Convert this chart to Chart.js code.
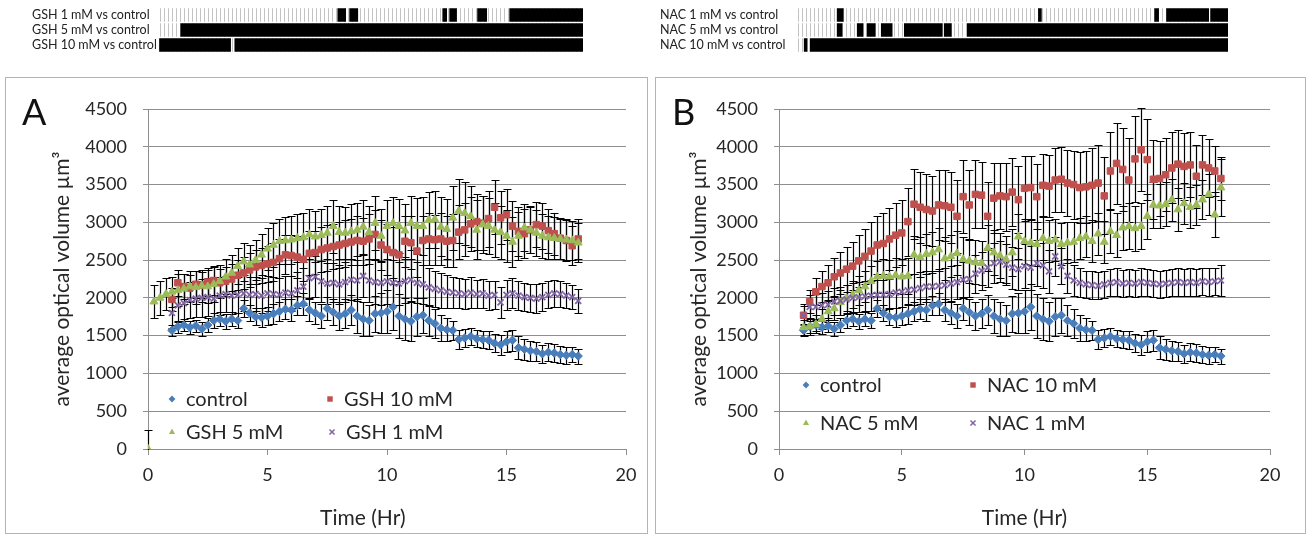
<!DOCTYPE html>
<html><head><meta charset="utf-8">
<script src="https://cdn.jsdelivr.net/npm/chart.js@4.4.1/dist/chart.umd.min.js"></script>
<style>
html,body{margin:0;padding:0;background:#fff;width:1307px;height:536px;overflow:hidden;}
canvas{position:absolute;}
.box{position:absolute;border:1px solid #b4b4b4;box-sizing:border-box;}
</style></head><body>
<div class="box" style="left:5px;top:77px;width:643px;height:457px"></div>
<div class="box" style="left:655px;top:77px;width:651px;height:457px"></div>
<canvas id="stripA" style="left:0;top:0;width:600px;height:60px" width="600" height="60"></canvas>
<canvas id="stripB" style="left:650px;top:0;width:657px;height:60px" width="657" height="60"></canvas>
<canvas id="chartA" style="left:6px;top:78px;width:640px;height:453px" width="640" height="453"></canvas>
<canvas id="chartB" style="left:656px;top:78px;width:648px;height:453px" width="648" height="453"></canvas>
<script>
// ---------------- DATA ----------------
const hours = [1,1.25,1.5,1.75,2,2.25,2.5,2.75,3,3.25,3.5,3.75,4,4.25,4.5,4.75,5,5.25,5.5,5.75,6,6.25,6.5,6.75,7,7.25,7.5,7.75,8,8.25,8.5,8.75,9,9.25,9.5,9.75,10,10.25,10.5,10.75,11,11.25,11.5,11.75,12,12.25,12.5,12.75,13,13.25,13.5,13.75,14,14.25,14.5,14.75,15,15.25,15.5,15.75,16,16.25,16.5,16.75,17,17.25,17.5,17.75,18];
const leadHours = [0,0.25,0.5,0.75];

const control = [1570,1620,1640,1610,1630,1590,1640,1700,1720,1690,1720,1700, 1860,1800,1750,1740,1760,1790,1820,1850,1840,1900,1920,1840,1800,1760,1860,1810, 1760,1790,1840,1760,1720,1700,1790,1800,1820,1880,1760,1720,1690,1750,1770,1700, 1660,1600,1580,1570,1450,1470,1490,1460,1450,1440,1400,1380, 1420,1440,1340,1320,1300,1290,1260,1280,1270,1250,1240,1250,1230];
const controlErr = [70,80,80,90,80,90,90,100,90,100,90,100, 110,100,110,120,120,130,120,130,140,130,150,140,150,160,150,170, 180,190,200,220,230,210,240,260,280,300,290,280,260,250,230,210, 190,170,150,130,120,120,110,110,110,120,120,130, 140,140,150,140,130,130,120,120,120,110,110,100,100];

const gsh10 = [1980,2200,2150,2130,2180,2170,2210,2230,2200,2220,2250,2300, 2330,2370,2410,2430,2450,2470,2520,2570,2560,2540,2510,2590,2600,2640,2660,2680, 2700,2720,2740,2760,2750,2780,2840,2700,2640,2600,2570,2750,2730,2620,2760,2780, 2770,2780,2750,2760,2870,2900,2980,3010,2990,3050,3200,3060, 3100,2950,2880,2850,2900,2970,2950,2890,2850,2790,2760,2690,2780];
const gsh10Err = [150,170,160,170,180,170,180,190,180,190,200,200, 210,220,230,230,240,250,260,260,270,280,280,290,290,300,300,300, 300,310,300,320,310,330,320,330,340,340,350,340,350,340,330,340, 330,340,340,350,360,350,360,370,360,370,360,350, 340,330,320,320,310,300,300,290,280,270,270,260,260];

const gsh5Lead = [0,1950,2000,2050];
const gsh5LeadErr = [250,220,220,210];
const gsh5 = [2080,2100,2120,2150,2140,2160,2150,2180,2220,2280,2330,2420, 2480,2440,2500,2570,2650,2700,2750,2760,2770,2790,2800,2840,2810,2830,2860,2950, 2870,2860,2880,2900,2940,2870,2990,2820,2950,2990,2950,2890,2990,2950,2950,3030, 3040,2940,2910,3060,3150,3120,3080,2900,2970,2950,2900,2870, 2820,2740,2820,2930,2900,2860,2820,2800,2790,2780,2770,2760,2730];
const gsh5Err = [200,210,200,210,220,210,220,230,220,230,240,240, 250,260,260,270,280,290,300,310,320,320,330,330,340,340,350,350, 350,340,360,350,360,350,360,350,340,350,360,350,360,370,380,370, 380,390,400,420,430,420,400,390,380,370,360,350, 340,330,320,310,300,300,290,290,280,270,270,260,260];

const gsh1 = [1800,1900,1930,1970,1990,2000,2010,1990,2030,2050,2030,2040, 2060,2040,2050,2030,2060,2050,2040,2070,2060,2100,2150,2260,2280,2220,2190,2200, 2180,2210,2240,2230,2290,2230,2210,2200,2220,2200,2190,2220,2240,2200,2180,2140, 2120,2100,2080,2070,2060,2050,2070,2050,2060,2030,2040,1940, 2040,2060,2030,2010,2000,1990,2010,2040,2060,2050,2030,2010,1960];
const gsh1Err = [200,220,230,240,240,250,250,250,250,240,240,240, 240,230,230,230,230,230,220,220,230,240,250,260,270,270,270,260, 260,260,270,270,280,280,290,290,300,300,290,290,280,270,260,250, 240,230,220,210,200,200,200,190,190,190,190,200, 200,200,190,190,190,190,190,180,180,170,170,160,160];

const nac10 = [1770,1950,2080,2150,2200,2280,2330,2380,2420,2490,2550,2620, 2700,2720,2780,2830,2860,3010,3240,3200,3170,3150,3230,3220,3200,3080,3340,3230, 3370,3360,3080,3320,3350,3340,3400,3300,3450,3460,3340,3490,3480,3560,3570,3520, 3500,3460,3470,3490,3520,3350,3680,3780,3700,3560,3840,3960, 3830,3570,3580,3630,3720,3770,3740,3760,3610,3760,3720,3680,3580];
const nac10Err = [120,150,180,200,230,250,280,300,320,340,360,380, 390,400,410,420,430,450,460,470,470,460,460,470,470,480,480,460, 450,440,450,460,440,450,450,440,430,420,430,420,410,420,430,440, 450,470,480,490,500,510,520,540,550,560,570,550, 540,520,500,480,470,450,440,430,420,400,380,330,280];

const nac5 = [1610,1620,1650,1720,1820,1860,1940,2000,2040,2100,2150,2220, 2280,2290,2280,2300,2280,2290,2570,2540,2580,2600,2640,2520,2550,2590,2510,2490, 2470,2460,2660,2600,2560,2510,2600,2810,2750,2730,2710,2790,2750,2770,2710,2730, 2740,2790,2810,2750,2850,2740,2880,2830,2930,2950,2920,2950, 3080,3230,3220,3240,3300,3170,3250,3200,3230,3300,3370,3100,3460];
const nac5Err = [100,110,120,130,140,150,160,170,180,190,200,200, 210,220,220,230,230,240,250,260,270,270,280,280,280,290,290,290, 290,290,300,300,300,310,310,300,300,300,290,290,280,280,280,270, 270,270,270,280,280,280,290,290,290,300,300,300, 300,300,290,290,280,280,270,270,260,260,270,300,380];

const nac1 = [1770,1880,1880,1900,1910,1950,1960,1980,2000,2010,2020,2030, 2040,2040,2050,2070,2080,2100,2110,2130,2150,2150,2160,2170,2190,2210,2240,2250, 2320,2360,2400,2460,2480,2440,2400,2380,2420,2400,2460,2430,2350,2550,2420,2290, 2230,2200,2180,2170,2160,2180,2200,2210,2190,2200,2190,2210, 2200,2190,2180,2190,2200,2210,2200,2210,2200,2220,2210,2220,2230];
const nac1Err = [150,160,170,170,180,180,190,190,200,200,200,200, 200,200,200,200,200,200,200,210,210,210,220,220,230,230,240,240, 250,250,260,260,270,270,280,280,290,290,300,300,280,260,240,220, 200,190,180,180,180,180,180,180,180,180,180,180, 180,180,180,180,180,180,180,180,180,180,180,180,200];

const yTicks = [0,500,1000,1500,2000,2500,3000,3500,4000,4500];
const xTicks = [0,5,10,15,20];

// significance strips (hours where treatment differs from control)
const stripLabelsA = ['GSH 1 mM vs control','GSH 5 mM vs control','GSH 10 mM vs control'];
const sigGsh1 = [[8.17,8.49],[8.65,8.98],[12.42,12.58],[12.70,12.98],[13.83,14.20],[15.13,18.1]];
const sigGsh5 = [[1.81,18.1]];
const sigGsh10 = [[0.95,3.83],[4.0,18.1]];
const stripSpanA = [0.88,18.1];

const stripLabelsB = ['NAC 1 mM vs control','NAC 5 mM vs control','NAC 10 mM vs control'];
const sigNac1 = [[2.33,2.58],[10.45,10.57],[15.14,15.30],[15.62,17.32],[17.40,18.1]];
const sigNac5 = [[2.33,2.53],[3.14,3.38],[3.54,3.87],[4.11,4.55],[5.04,6.57],[6.65,6.94],[7.58,18.1]];
const sigNac10 = [[1.0,1.12],[1.24,18.1]];
const stripSpanB = [0.75,18.1];

// ---------------- RENDER ----------------
const FONT = 'Lato, "Open Sans", sans-serif';
Chart.defaults.font.family = FONT;
Chart.defaults.color = '#262626';
const GRID = '#8e8e8e';
const COL = {blue:'#4A7EBB', red:'#C0504D', green:'#9BBB59', purple:'#8064A2'};

function pts(hrs, vals){ return vals.map((v,i)=>({x:hrs[i], y:v})); }

function drawMarker(ctx, style, color, x, y, r){
  ctx.save(); ctx.fillStyle=color; ctx.strokeStyle=color; ctx.lineWidth=1.5;
  ctx.beginPath();
  if(style==='rectRot'){ ctx.moveTo(x,y-r); ctx.lineTo(x+r,y); ctx.lineTo(x,y+r); ctx.lineTo(x-r,y); ctx.closePath(); ctx.fill(); }
  else if(style==='rect'){ const s=r*0.8; ctx.rect(x-s,y-s,2*s,2*s); ctx.fill(); }
  else if(style==='triangle'){ ctx.moveTo(x,y-r); ctx.lineTo(x+r*0.9,y+r*0.6); ctx.lineTo(x-r*0.9,y+r*0.6); ctx.closePath(); ctx.fill(); }
  else { const s=r*0.75; ctx.moveTo(x-s,y-s); ctx.lineTo(x+s,y+s); ctx.moveTo(x+s,y-s); ctx.lineTo(x-s,y+s); ctx.stroke(); }
  ctx.restore();
}

const errorBarPlugin = {
  id:'errorBars',
  beforeDatasetsDraw(chart){
    const {ctx, chartArea:a, scales:{y}} = chart;
    ctx.save();
    ctx.beginPath(); ctx.rect(a.left-6, a.top-3, a.right-a.left+12, a.bottom-a.top+4); ctx.clip();
    ctx.strokeStyle='#000'; ctx.lineWidth=1.2;
    chart.data.datasets.forEach((ds,di)=>{
      if(!ds.errors) return;
      const meta = chart.getDatasetMeta(di);
      meta.data.forEach((el,i)=>{
        const v = ds.data[i].y, e = ds.errors[i];
        if(v==null || e==null) return;
        const x = Math.round(el.x)+0.5;
        const yt = Math.round(y.getPixelForValue(v+e))+0.5;
        const yb = Math.round(y.getPixelForValue(v-e))+0.5;
        ctx.beginPath();
        ctx.moveTo(x,yt); ctx.lineTo(x,yb);
        ctx.moveTo(x-4,yt); ctx.lineTo(x+4,yt);
        ctx.moveTo(x-4,yb); ctx.lineTo(x+4,yb);
        ctx.stroke();
      });
    });
    ctx.restore();
  }
};

const insideLegend = {
  id:'insideLegend',
  afterDatasetsDraw(chart, args, opts){
    const {ctx, chartArea:a} = chart;
    ctx.save();
    ctx.font = '20px ' + FONT; ctx.fillStyle='#262626'; ctx.textBaseline='middle'; ctx.textAlign='left';
    opts.items.forEach(it=>{
      const ds = chart.data.datasets[it.index];
      const x = a.left+it.dx, y = a.top+it.dy;
      drawMarker(ctx, ds.pointStyle, ds.pointBorderColor, x, y, 3.4);
      ctx.fillStyle='#262626';
      ctx.fillText(ds.label, x+14, y+1);
    });
    ctx.restore();
  }
};

const panelLetter = {
  id:'panelLetter',
  afterDraw(chart, args, opts){
    const ctx = chart.ctx;
    ctx.save(); ctx.font = '36px ' + FONT; ctx.fillStyle='#111'; ctx.textBaseline='alphabetic'; ctx.textAlign='left';
    ctx.fillText(opts.text, opts.x, opts.y); ctx.restore();
  }
};

function mkDs(label, data, errors, style, color, radius, order){
  return {label, data, errors, pointStyle:style, pointRadius:radius, pointHoverRadius:radius,
    pointBackgroundColor:color, pointBorderColor:color, backgroundColor:color, borderColor:color,
    pointBorderWidth: style==='crossRot'?1.8:1, showLine:false, order};
}

function mainChart(id, datasets, cfg){
  return new Chart(document.getElementById(id), {
    type:'scatter',
    data:{datasets},
    plugins:[errorBarPlugin, insideLegend, panelLetter],
    options:{
      responsive:false, animation:false, events:[],
      layout:{padding:{left:0, right:cfg.padRight, top:31, bottom:0}},
      scales:{
        x:{type:'linear', min:0, max:20,
          afterBuildTicks(s){ s.ticks = xTicks.map(v=>({value:v})); },
          ticks:{font:{size:18}, color:'#262626', padding:9, callback:v=>String(v)},
          grid:{display:true, drawOnChartArea:false, drawTicks:true, tickLength:6, color:GRID},
          border:{display:true, color:GRID},
          title:{display:true, text:cfg.xTitle, font:{size:21}, color:'#262626', padding:{top:0,bottom:0}},
          afterFit(s){ s.height = 82; }
        },
        y:{type:'linear', min:0, max:4500,
          afterBuildTicks(s){ s.ticks = yTicks.map(v=>({value:v})); },
          ticks:{font:{size:18}, color:'#262626', padding:16, callback:v=>String(v)},
          grid:{color:GRID, tickLength:5, drawTicks:true},
          border:{display:true, color:GRID},
          title:{display:true, text:'average optical volume µm³', font:{size:21}, color:'#262626', padding:{top:cfg.yTitlePad, bottom:0}},
          afterFit(s){ s.width = cfg.yWidth; }
        }
      },
      plugins:{legend:{display:false}, tooltip:{enabled:false},
        insideLegend:{items:cfg.legend},
        panelLetter:{text:cfg.letter, x:16, y:47}}
    }
  });
}

mainChart('chartA', [
  mkDs('control', pts(hours, control), controlErr, 'rectRot', COL.blue, 4.2, 4),
  mkDs('GSH 10 mM', pts(hours, gsh10), gsh10Err, 'rect', COL.red, 4.6, 3),
  mkDs('GSH 5 mM', pts(leadHours, gsh5Lead).concat(pts(hours, gsh5)), gsh5LeadErr.concat(gsh5Err), 'triangle', COL.green, 4.6, 2),
  mkDs('GSH 1 mM', pts(hours, gsh1), gsh1Err, 'crossRot', COL.purple, 4.2, 1)
], {padRight:20, yWidth:142, yTitlePad:44, letter:'A',
    xTitle:'Time (Hr)\u00A0\u00A0\u00A0\u00A0\u00A0\u00A0\u00A0\u00A0\u00A0',
    legend:[{index:0,dx:24,dy:290},{index:1,dx:182,dy:290},{index:2,dx:24,dy:323},{index:3,dx:184,dy:323}]});

mainChart('chartB', [
  mkDs('control', pts(hours, control), controlErr, 'rectRot', COL.blue, 4.2, 4),
  mkDs('NAC 10 mM', pts(hours, nac10), nac10Err, 'rect', COL.red, 4.6, 3),
  mkDs('NAC 5 mM', pts(hours, nac5), nac5Err, 'triangle', COL.green, 4.6, 2),
  mkDs('NAC 1 mM', pts(hours, nac1), nac1Err, 'crossRot', COL.purple, 4.2, 1)
], {padRight:34, yWidth:123, yTitlePad:31, letter:'B', xTitle:'Time (Hr)',
    legend:[{index:0,dx:27,dy:276},{index:1,dx:194,dy:276},{index:2,dx:27,dy:314},{index:3,dx:194,dy:314}]});

function stripePattern(ctx){
  const c = document.createElement('canvas'); c.width=4; c.height=4;
  const g = c.getContext('2d'); g.fillStyle='#ffffff'; g.fillRect(0,0,4,4);
  g.fillStyle='#c2c2c2'; g.fillRect(0,0,1,4);
  return ctx.createPattern(c,'repeat');
}

function strip(id, labels, sigRows, span, cfg){
  const el = document.getElementById(id);
  const sigData = [];
  sigRows.forEach((rows,r)=>rows.forEach(iv=>sigData.push({y:labels[r], x:iv})));
  const grayData = labels.map(l=>({y:l, x:span}));
  return new Chart(el, {
    type:'bar',
    data:{labels, datasets:[
      {data:sigData, backgroundColor:'#000000', barThickness:13, grouped:false, order:0},
      {data:grayData, backgroundColor:stripePattern(el.getContext('2d')), barThickness:13, grouped:false, order:1}
    ]},
    options:{indexAxis:'y', responsive:false, animation:false, events:[],
      layout:{padding:{left:cfg.padLeft, right:cfg.padRight, top:6, bottom:5}},
      scales:{
        x:{type:'linear', min:cfg.min, max:18.1, display:false},
        y:{type:'category', grid:{display:false}, border:{display:false},
           ticks:{crossAlign:'far', font:{size:12.5}, color:'#222', padding:0, autoSkip:false},
           afterFit(s){ s.width = cfg.axisW; }}
      },
      plugins:{legend:{display:false}, tooltip:{enabled:false}}
    }
  });
}

strip('stripA', stripLabelsA, [sigGsh1, sigGsh5, sigGsh10], stripSpanA, {padLeft:32, axisW:125, padRight:17, min:0.85});
strip('stripB', stripLabelsB, [sigNac1, sigNac5, sigNac10], stripSpanB, {padLeft:10, axisW:138, padRight:79, min:0.75});
</script>
</body></html>
